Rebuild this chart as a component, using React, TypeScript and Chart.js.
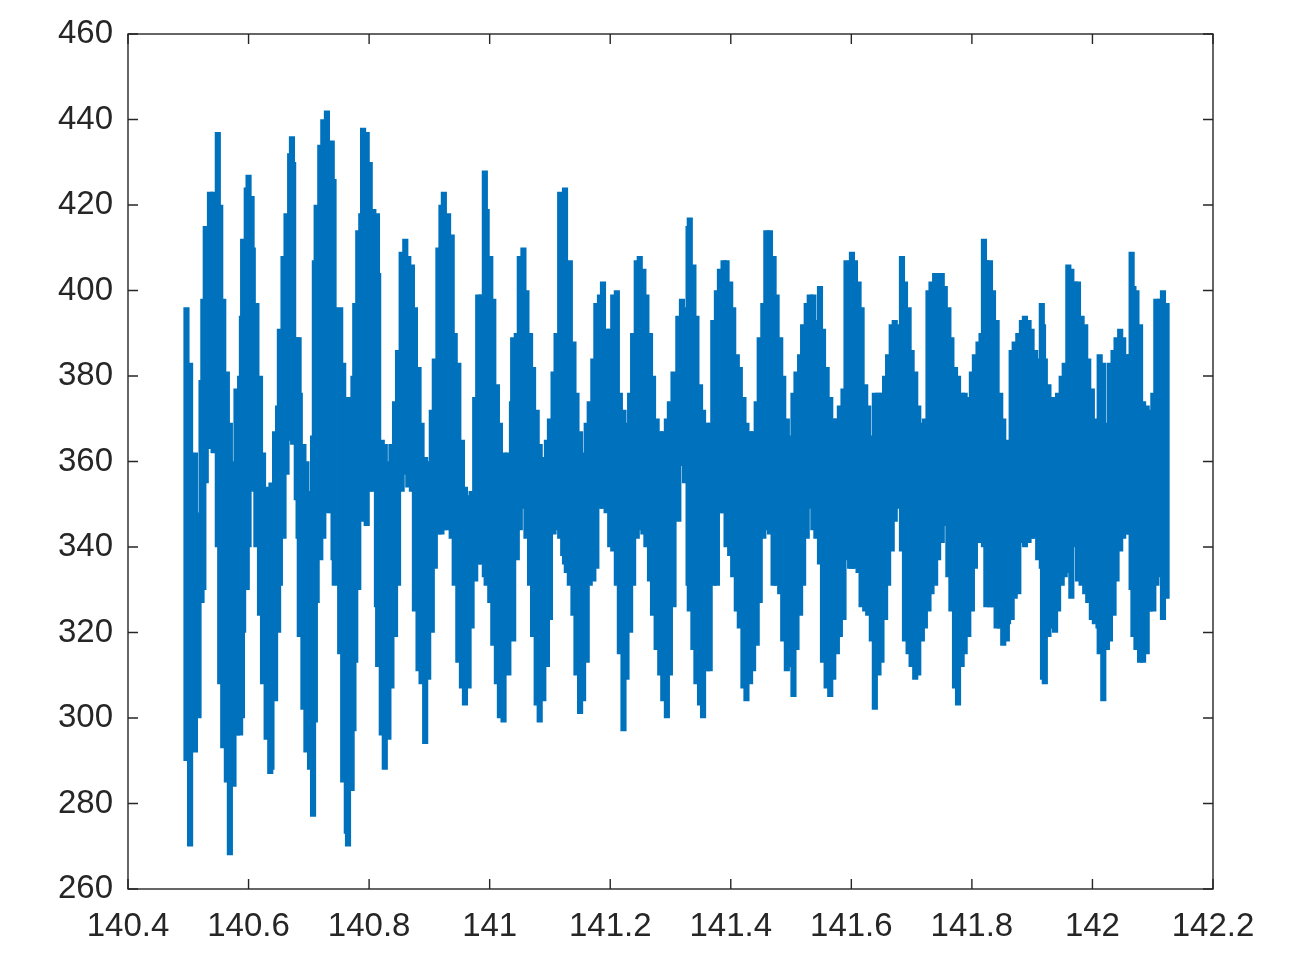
import React, { useEffect, useRef } from "react";
import { Chart, registerables } from "chart.js";

Chart.register(...registerables);

// Sample positions (time axis) and the upper / lower envelope of the dense signal
const xs: number[] = [
  140.497, 140.503, 140.511, 140.517, 140.522, 140.525, 140.529, 140.536, 140.542, 140.549,
  140.553, 140.558, 140.564, 140.569, 140.575, 140.580, 140.586, 140.589, 140.591, 140.597,
  140.600, 140.605, 140.607, 140.613, 140.619, 140.624, 140.630, 140.636, 140.638, 140.644,
  140.649, 140.652, 140.658, 140.663, 140.669, 140.672, 140.674, 140.680, 140.683, 140.685,
  140.691, 140.696, 140.702, 140.707, 140.710, 140.713, 140.719, 140.724, 140.730, 140.738,
  140.741, 140.743, 140.752, 140.757, 140.763,
  140.765, 140.771, 140.774, 140.777, 140.782, 140.787, 140.790, 140.796, 140.801, 140.807,
  140.813, 140.815, 140.821, 140.826, 140.832, 140.837, 140.843, 140.848, 140.854, 140.860,
  140.865, 140.871, 140.876, 140.882, 140.887, 140.893, 140.898, 140.904, 140.909, 140.915,
  140.920, 140.924, 140.931, 140.937, 140.942, 140.948, 140.954, 140.959, 140.965, 140.970,
  140.976, 140.981, 140.987, 140.992, 140.995, 141.001, 141.006, 141.012, 141.017, 141.023,
  141.031, 141.037,
  141.039, 141.045, 141.050, 141.056, 141.061, 141.067, 141.072, 141.078, 141.083, 141.089,
  141.095, 141.100, 141.106, 141.111, 141.117, 141.122, 141.125, 141.128, 141.133, 141.139,
  141.144, 141.150, 141.155, 141.161, 141.166, 141.172, 141.177, 141.183, 141.188, 141.194,
  141.200, 141.205, 141.211, 141.216, 141.222, 141.227, 141.233, 141.238, 141.244, 141.249,
  141.255, 141.260, 141.266, 141.271, 141.277, 141.283, 141.288, 141.294, 141.299, 141.305,
  141.313, 141.319, 141.324, 141.330, 141.332, 141.338, 141.343, 141.349, 141.354, 141.360,
  141.365, 141.371, 141.377, 141.382, 141.388, 141.393, 141.399, 141.404, 141.410, 141.415,
  141.421, 141.426, 141.432, 141.437, 141.443, 141.448, 141.454, 141.459, 141.465, 141.471,
  141.476, 141.482, 141.487, 141.493, 141.498, 141.504, 141.509, 141.515, 141.520, 141.526,
  141.531, 141.537, 141.542, 141.548, 141.553, 141.559, 141.565, 141.570, 141.576, 141.581,
  141.587,
  141.592, 141.598, 141.601, 141.606, 141.612, 141.617, 141.623, 141.628, 141.634, 141.639,
  141.645, 141.650, 141.656, 141.661, 141.667, 141.672, 141.678, 141.684, 141.689, 141.695,
  141.700, 141.706, 141.711, 141.717, 141.722, 141.728, 141.733, 141.739, 141.744, 141.750,
  141.755, 141.761, 141.766, 141.772, 141.777, 141.783, 141.788, 141.794, 141.800, 141.805,
  141.811, 141.816, 141.820, 141.824, 141.830, 141.835, 141.841, 141.847, 141.852, 141.858,
  141.860, 141.866, 141.871, 141.877, 141.883, 141.888, 141.894, 141.899, 141.905, 141.910,
  141.916, 141.918, 141.921, 141.927, 141.932, 141.938, 141.943, 141.949, 141.954, 141.960,
  141.965, 141.971, 141.976, 141.982, 141.988, 141.993, 141.999, 142.004, 142.010, 142.012,
  142.018, 142.024, 142.029, 142.035, 142.040, 142.046, 142.051, 142.057, 142.062, 142.065,
  142.068, 142.073, 142.079, 142.084, 142.090, 142.095, 142.101, 142.106, 142.112, 142.117,
  142.123,
];

const hi: number[] = [
  396, 383, 362, 348, 379, 398, 415, 423, 423, 437,
  420, 398, 381, 369, 360, 377, 380, 394, 412, 424,
  427, 422, 410, 397, 380, 362, 354, 351, 355, 367,
  373, 391, 408, 418, 432, 436, 430, 389, 389, 376,
  364, 360, 353, 366, 407, 420, 434, 440, 442, 435,
  426, 396, 396, 383, 375,
  375, 370, 380, 397, 414, 418, 438, 437, 430, 419,
  418, 404, 365, 364, 360, 364, 374, 386, 409, 412,
  408, 406, 396, 382, 369, 361, 360, 372, 384, 410,
  420, 423, 418, 413, 390, 383, 365, 354, 352, 353,
  375, 399, 399, 428, 419, 408, 398, 378, 369, 362,
  362, 374,
  389, 390, 408, 410, 400, 390, 382, 372, 364, 361,
  365, 370, 381, 390, 423, 419, 424, 405, 407, 388,
  376, 367, 362, 369, 374, 384, 397, 399, 402, 391,
  391, 399, 400, 376, 372, 369, 376, 390, 407, 408,
  405, 399, 390, 380, 370, 367, 367, 370, 374, 381,
  394, 398, 396, 415, 417, 406, 394, 378, 372, 369,
  369, 393, 400, 405, 407, 407, 402, 396, 385, 382,
  375, 369, 367, 367, 374, 389, 397, 414, 414, 408,
  399, 389, 380, 370, 366, 376, 381, 385, 392, 397,
  399, 399, 393, 401, 391, 382, 375, 370, 370, 373,
  377,
  407, 401, 409, 407, 402, 396, 378, 373, 366, 376,
  376, 376, 380, 385, 392, 393, 392, 408, 402, 396,
  386, 381, 373, 369, 370, 400, 402, 404, 404, 404,
  401, 396, 389, 382, 380, 376, 376, 375, 381, 385,
  388, 390, 412, 407, 407, 400, 393, 376, 370, 365,
  364, 386, 388, 390, 393, 394, 393, 391, 386, 384,
  397, 392, 384, 378, 375, 375, 376, 380, 383, 406,
  405, 402, 402, 394, 392, 384, 377, 370, 362, 385,
  383, 369, 383, 386, 389, 391, 389, 385, 385, 409,
  401, 400, 392, 374, 373, 372, 376, 398, 398, 400,
  397,
];

const lo: number[] = [
  290, 270, 292, 300, 327, 330, 355, 363, 362, 340,
  308, 293, 285, 268, 284, 296, 296, 300, 320, 330,
  340, 353, 354, 340, 324, 308, 295, 287, 288, 304,
  320, 331, 342, 357, 365, 365, 364, 351, 342, 319,
  302, 292, 288, 277, 299, 327, 337, 342, 348, 348,
  337, 331, 315, 285, 273,
  270, 283, 297, 313, 330, 346, 350, 345, 353, 353,
  326, 312, 296, 288, 295, 307, 319, 331, 353, 357,
  354, 353, 325, 311, 308, 294, 309, 320, 335, 343,
  343, 344, 344, 342, 331, 313, 307, 303, 307, 321,
  332, 336, 336, 333, 331, 327, 317, 308, 300, 299,
  310, 319,
  318, 337, 344, 349, 342, 331, 319, 303, 299, 304,
  312, 323, 343, 344, 342, 338, 336, 334, 331, 324,
  310, 301, 304, 313, 331, 332, 335, 349, 349, 348,
  340, 339, 331, 315, 297, 309, 320, 331, 342, 344,
  343, 340, 332, 324, 316, 310, 304, 300, 310, 326,
  346, 359, 355, 331, 325, 316, 308, 303, 300, 311,
  311, 331, 331, 348, 348, 340, 338, 333, 325, 321,
  307, 304, 308, 311, 317, 327, 342, 344, 343, 331,
  331, 329, 318, 311, 312, 305, 316, 324, 331, 342,
  349, 344, 342, 336, 313, 307, 305, 309, 315, 319,
  323,
  337, 335, 335, 335, 334, 326, 325, 324, 318, 302,
  310, 313, 323, 331, 339, 346, 349, 339, 318, 315,
  312, 309, 310, 318, 321, 325, 329, 331, 337, 341,
  345, 333, 325, 307, 303, 312, 315, 319, 325, 335,
  341, 345, 340, 326, 326, 326, 321, 321, 317, 318,
  322, 323, 328, 329, 341, 340, 341, 342, 342, 337,
  335, 309, 308, 319, 321, 320, 325, 331, 333, 334,
  328, 340, 332, 331, 329, 327, 323, 322, 321, 315,
  304, 316, 318, 324, 332, 339, 342, 343, 343, 330,
  319, 316, 313, 313, 315, 325, 325, 331, 333, 323,
  328,
];

const xTicks: number[] = [140.4, 140.6, 140.8, 141, 141.2, 141.4, 141.6, 141.8, 142, 142.2];
const yTicks: number[] = [260, 280, 300, 320, 340, 360, 380, 400, 420, 440, 460];

const BLUE = "#0072BD";
const AXIS = "#262626";
const FONT = '"Liberation Sans", Arial, Helvetica, sans-serif';

const boxPlugin = {
  id: "matlabBox",
  afterDraw(chart: any) {
    const { ctx, chartArea, scales } = chart;
    const { left, right, top, bottom } = chartArea;
    const tl = 10;
    ctx.save();
    ctx.strokeStyle = AXIS;
    ctx.lineWidth = 1.4;
    ctx.beginPath();
    for (const t of xTicks) {
      const px = scales.x.getPixelForValue(t);
      ctx.moveTo(px, bottom);
      ctx.lineTo(px, bottom - tl);
      ctx.moveTo(px, top);
      ctx.lineTo(px, top + tl);
    }
    for (const t of yTicks) {
      const py = scales.y.getPixelForValue(t);
      ctx.moveTo(left, py);
      ctx.lineTo(left + tl, py);
      ctx.moveTo(right, py);
      ctx.lineTo(right - tl, py);
    }
    ctx.stroke();
    ctx.strokeRect(left, top, right - left, bottom - top);
    ctx.restore();
  },
};

export default function App() {
  const ref = useRef<HTMLCanvasElement | null>(null);

  useEffect(() => {
    if (!ref.current) return;
    const spans = xs.map((x, i) => ({ x, y: [lo[i], hi[i]] }));
    const chart = new Chart(ref.current, {
      type: "bar",
      data: {
        datasets: [
          {
            data: spans as any,
            backgroundColor: BLUE,
            borderWidth: 0,
            barThickness: 5.5,
          },
        ],
      },
      options: {
        responsive: false,
        animation: false,
        events: [],
        layout: { padding: { left: 0, top: 34, right: 99, bottom: 0 } },
        plugins: { legend: { display: false }, tooltip: { enabled: false } },
        scales: {
          x: {
            type: "linear",
            min: 140.4,
            max: 142.2,
            offset: false,
            afterFit: (s: any) => {
              s.height = 67;
            },
            afterBuildTicks: (s: any) => {
              s.ticks = xTicks.map((v) => ({ value: v }));
            },
            grid: { display: false, offset: false },
            border: { display: false },
            ticks: {
              padding: 10,
              maxRotation: 0,
              autoSkip: false,
              color: AXIS,
              font: { family: FONT, size: 33 },
              callback: (v: any) => String(Number(Number(v).toFixed(1))),
            },
          },
          y: {
            type: "linear",
            min: 260,
            max: 460,
            afterFit: (s: any) => {
              s.width = 128;
            },
            afterBuildTicks: (s: any) => {
              s.ticks = yTicks.map((v) => ({ value: v }));
            },
            grid: { display: false },
            border: { display: false },
            ticks: {
              padding: 7,
              autoSkip: false,
              color: AXIS,
              font: { family: FONT, size: 33 },
              callback: (v: any) => String(v),
            },
          },
        },
      },
      plugins: [boxPlugin],
    });
    return () => chart.destroy();
  }, []);

  return (
    <div style={{ position: "fixed", left: 0, top: 0, width: 1312, height: 956, background: "#fff" }}>
      <canvas ref={ref} width={1312} height={956} style={{ display: "block" }} />
    </div>
  );
}
